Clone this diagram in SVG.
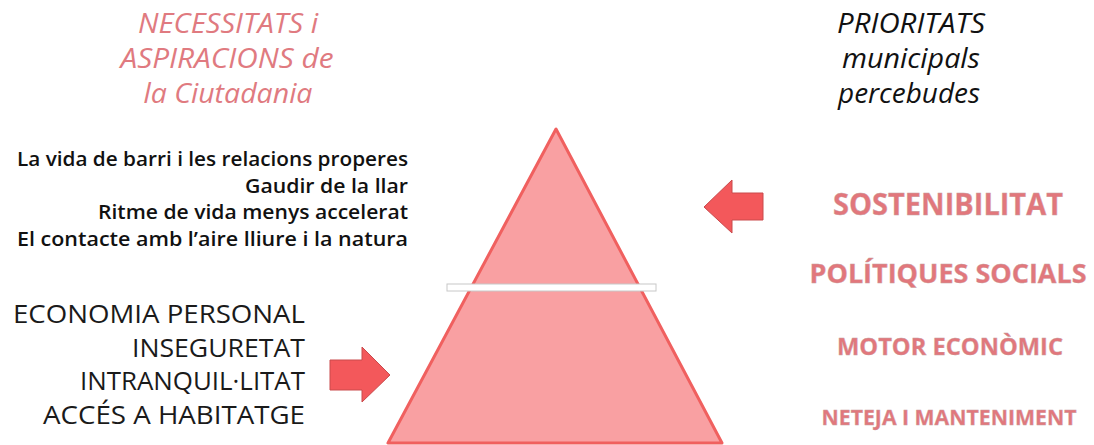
<svg xmlns="http://www.w3.org/2000/svg" width="1094" height="445" viewBox="0 0 1094 445">
<style>
.t{font-family:"Open Sans","Noto Sans","Liberation Sans",sans-serif;}
.ttl{font-size:27px;font-style:italic;text-anchor:middle;}
.pink{fill:#e07a80;}
.need{font-size:20.5px;font-weight:600;fill:#111;text-anchor:end;}
.cap{font-size:26px;fill:#1a1a1a;text-anchor:end;}
.prio{fill:#e2777c;font-weight:700;text-anchor:middle;stroke:#c8a0a0;stroke-width:0.4;}
.arrow{fill:#f3585b;stroke:#c94a4c;stroke-width:1;}
</style>
<g id="pyramid">
<polygon points="556,129 388,443 722,443" fill="#f9a0a2" stroke="#f0605f" stroke-width="3" stroke-linejoin="round"/>
<rect x="447" y="284" width="209" height="7" fill="#ffffff" stroke="#c8c8c8" stroke-width="1"/>
</g>
<g id="title-left" class="t ttl pink">
<text x="228" y="33" textLength="180" lengthAdjust="spacingAndGlyphs">NECESSITATS i</text>
<text x="227" y="68" textLength="213" lengthAdjust="spacingAndGlyphs">ASPIRACIONS de</text>
<text x="228" y="103" textLength="169" lengthAdjust="spacingAndGlyphs">la Ciutadania</text>
</g>
<g id="title-right" class="t ttl" fill="#111">
<text x="911" y="33" textLength="148" lengthAdjust="spacingAndGlyphs">PRIORITATS</text>
<text x="911" y="68" textLength="138" lengthAdjust="spacingAndGlyphs">municipals</text>
<text x="909" y="103" textLength="142" lengthAdjust="spacingAndGlyphs">percebudes</text>
</g>
<g id="aspirations" class="t need">
<text x="408" y="166" textLength="391" lengthAdjust="spacingAndGlyphs">La vida de barri i les relacions properes</text>
<text x="408" y="193" textLength="163" lengthAdjust="spacingAndGlyphs">Gaudir de la llar</text>
<text x="408" y="219" textLength="310" lengthAdjust="spacingAndGlyphs">Ritme de vida menys accelerat</text>
<text x="408" y="246" textLength="391" lengthAdjust="spacingAndGlyphs">El contacte amb l’aire lliure i la natura</text>
</g>
<g id="needs" class="t cap">
<text x="305" y="323" textLength="292" lengthAdjust="spacingAndGlyphs">ECONOMIA PERSONAL</text>
<text x="305" y="357" textLength="173" lengthAdjust="spacingAndGlyphs">INSEGURETAT</text>
<text x="305" y="390" textLength="225" lengthAdjust="spacingAndGlyphs">INTRANQUIL·LITAT</text>
<text x="305" y="424" textLength="262" lengthAdjust="spacingAndGlyphs">ACCÉS A HABITATGE</text>
</g>
<g id="priorities" class="t prio">
<text x="948" y="215" font-size="30" textLength="230" lengthAdjust="spacingAndGlyphs">SOSTENIBILITAT</text>
<text x="948" y="283" font-size="27" textLength="277" lengthAdjust="spacingAndGlyphs">POLÍTIQUES SOCIALS</text>
<text x="950" y="355" font-size="23" textLength="226" lengthAdjust="spacingAndGlyphs">MOTOR ECONÒMIC</text>
<text x="949" y="425" font-size="22" textLength="255" lengthAdjust="spacingAndGlyphs">NETEJA I MANTENIMENT</text>
</g>
<g id="connectors">
<polygon class="arrow" points="330,360 362,360 362,347 390,375 362,402 362,390 330,390"/>
<polygon class="arrow" points="763,193 732,193 732,180 704,207 732,233 732,220 763,220"/>
</g>
</svg>
